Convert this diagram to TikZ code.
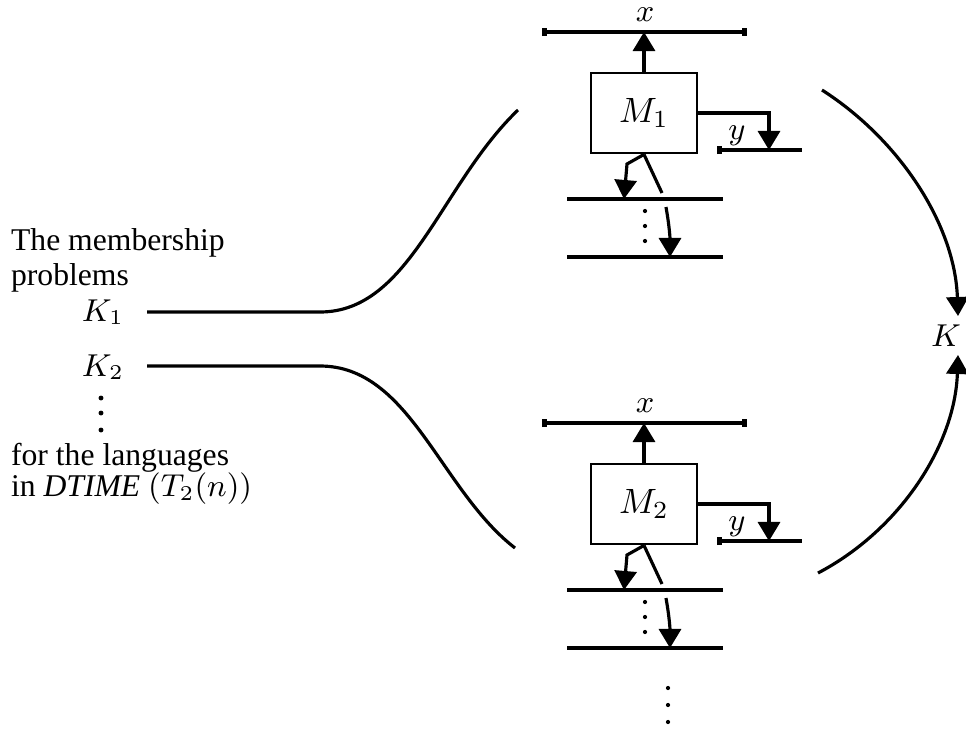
\documentclass[tikz,border=0pt]{standalone}
\usepackage{fontspec}
\setmainfont{Liberation Serif}
\usetikzlibrary{positioning, calc, arrows.meta}

\tikzset{
  head/.style={-{Triangle[length=0.19cm,width=0.22cm]}},
  machine/.style={draw, line width=0.8pt, minimum width=1.06cm, minimum height=0.8cm, inner sep=0pt},
  lbl/.style={font=\small, inner sep=1pt},
  endbar/.style={{Bar[width=0.08cm,line width=1.4pt]}-{Bar[width=0.08cm,line width=1.4pt]}},
  leftbar/.style={{Bar[width=0.08cm,line width=1.4pt]}-}
}

\begin{document}
\begin{tikzpicture}[x=0.01cm, y=-0.01cm, line width=0.9pt]
        \useasboundingbox (0,0) rectangle (966,736);

        % Text on the left
        \node[lbl, anchor=west] (title1) at (6,243) {The membership};
        \node[lbl, anchor=west] (title2) at (6,278) {problems};
        \node[lbl] (k1) at (103,312) {$K_1$};
        \node[lbl] (k2) at (103,367) {$K_2$};
        \foreach \d in {398,413,430}
          \fill (101,\d) circle (0.7pt);
        \node[lbl, anchor=west] (lang1) at (6,458) {for the languages};
        \node[lbl, anchor=west] (lang2) at (6,489) {in \textit{DTIME} $(T_2(n))$};

        % Two machines
        \foreach \i/\dy in {1/0,2/391} {
          \begin{scope}[shift={(0,\dy)}]
            \node[machine] (m\i) at (644,113) {$M_{\i}$};

            % input tape
            \draw[endbar] (542,32) coordinate (xl\i) -- (747,32) coordinate (xr\i);
            \node[lbl] (xlab\i) at (645,15) {$x$};
            \draw[head] (m\i.north) -- (m\i.north |- xl\i);

            % output tape
            \draw[leftbar] (717,150) coordinate (yl\i) -- (802,150) coordinate (yr\i);
            \node[lbl] (ylab\i) at (737,136) {$y$};
            \coordinate (yh\i) at (769,150);
            \draw[head] (m\i.east) -| (yh\i);

            % work tapes
            \draw (567,199) coordinate (wa\i) -- (723,199);
            \draw (567,257) coordinate (wb\i) -- (723,257);
            \draw[head] (m\i.south) -- (627,164) -- (624,199);
            \draw (m\i.south) -- (662,193);
            \draw[head] (666,207) to[out=-80,in=90] (670,257);
            \foreach \d in {211,226,241}
              \fill (645,\d) circle (0.6pt);
          \end{scope}
        }
        \foreach \d in {688,705,722}
          \fill (668,\d) circle (0.6pt);

        % Curves from the problems to the machines
        \coordinate (k1s) at (147,312);
        \coordinate (k2s) at (147,366);
        \draw (k1s) -- (320,312) .. controls (410,312) and (440,185) .. (518,110);
        \draw (k2s) -- (320,366) .. controls (410,366) and (440,490) .. (515,548);

        % Arcs to K
        \node[lbl, anchor=east] (kk) at (966,336) {$K$};
        \coordinate (a1) at (822,90);
        \coordinate (a2) at (818,573);
        \draw[head] (a1) .. controls (900,140) and (955,225) .. (958,316);
        \draw[head] (a2) .. controls (900,530) and (955,445) .. (958,355);
      \end{tikzpicture}
\end{document}
